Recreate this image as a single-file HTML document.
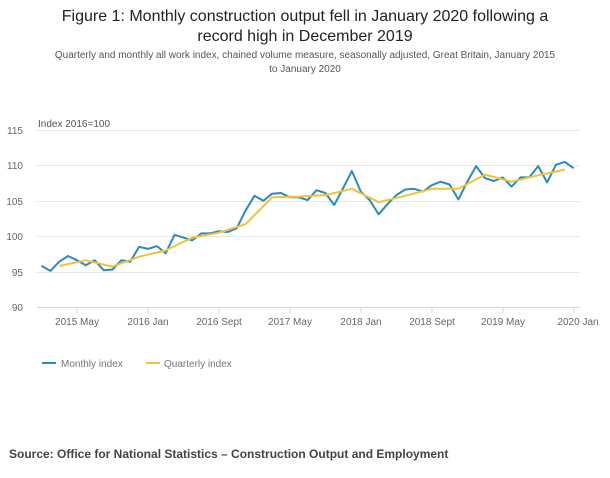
<!DOCTYPE html>
<html><head><meta charset="utf-8"><style>
body{margin:0;background:#fff;width:610px;height:478px;overflow:hidden;font-family:"Liberation Sans",sans-serif;}
.t{position:absolute;left:0;width:610px;text-align:center;font-size:16px;color:#222;line-height:20px;top:7px;}
.s{position:absolute;left:0;width:610px;text-align:center;font-size:10px;color:#555;line-height:14px;top:49px;}
.src{position:absolute;left:9px;top:447px;font-size:12px;font-weight:bold;color:#444;}
</style></head><body>
<div class="t">Figure 1: Monthly construction output fell in January 2020 following a<br>record high in December 2019</div>
<div class="s">Quarterly and monthly all work index, chained volume measure, seasonally adjusted, Great Britain, January 2015<br>to January 2020</div>
<svg width="610" height="478" style="position:absolute;left:0;top:0" font-family="Liberation Sans, sans-serif">
<g stroke="#e6e6e6" stroke-width="1">
<line x1="37" x2="580" y1="130.5" y2="130.5"/><line x1="37" x2="580" y1="165.5" y2="165.5"/><line x1="37" x2="580" y1="201.5" y2="201.5"/><line x1="37" x2="580" y1="236.5" y2="236.5"/><line x1="37" x2="580" y1="272.5" y2="272.5"/>
</g>
<line x1="37" x2="580" y1="307.5" y2="307.5" stroke="#ccd6eb"/>
<g stroke="#ccd6eb"><line x1="77" x2="77" y1="307" y2="313"/><line x1="148" x2="148" y1="307" y2="313"/><line x1="219" x2="219" y1="307" y2="313"/><line x1="290" x2="290" y1="307" y2="313"/><line x1="361" x2="361" y1="307" y2="313"/><line x1="432" x2="432" y1="307" y2="313"/><line x1="503" x2="503" y1="307" y2="313"/><line x1="574" x2="574" y1="307" y2="313"/></g>
<g font-size="10" fill="#666" text-anchor="end">
<text x="23" y="134">115</text><text x="23" y="169">110</text><text x="23" y="205">105</text><text x="23" y="240">100</text><text x="23" y="276">95</text><text x="23" y="311">90</text>
</g>
<text x="38" y="127" font-size="10" fill="#555">Index 2016=100</text>
<g font-size="10" fill="#666" text-anchor="middle">
<text x="77" y="325">2015 May</text><text x="148" y="325">2016 Jan</text><text x="219" y="325">2016 Sept</text><text x="290" y="325">2017 May</text><text x="361" y="325">2018 Jan</text><text x="432" y="325">2018 Sept</text><text x="503" y="325">2019 May</text><text x="578" y="325">2020 Jan</text>
</g>
<polyline id="m" fill="none" stroke="#2a8cbd" stroke-width="2" stroke-linejoin="round" points=""/>
<polyline id="q" fill="none" stroke="#f0c43a" stroke-width="2" stroke-linejoin="round" points=""/>
<line x1="42" x2="56" y1="363" y2="363" stroke="#2a8cbd" stroke-width="2"/>
<text x="61" y="367" font-size="10" fill="#777">Monthly index</text>
<line x1="146" x2="160" y1="363" y2="363" stroke="#f0c43a" stroke-width="2"/>
<text x="164" y="367" font-size="10" fill="#777">Quarterly index</text>
</svg>
<div class="src">Source: Office for National Statistics – Construction Output and Employment</div>
<script>
var M=[95.8,95.1,96.4,97.2,96.6,95.9,96.6,95.2,95.3,96.6,96.4,98.5,98.2,98.6,97.6,100.2,99.8,99.4,100.4,100.4,100.7,100.6,101.1,103.6,105.7,105.0,106.0,106.1,105.5,105.5,105.1,106.5,106.1,104.4,106.8,109.2,106.3,105.1,103.1,104.5,105.8,106.6,106.7,106.3,107.2,107.7,107.3,105.2,107.7,109.9,108.2,107.8,108.3,107.0,108.3,108.3,109.9,107.6,110.1,110.5,109.6];
var Q=[95.8,96.6,95.7,97.1,98.0,99.8,100.5,101.7,105.5,105.6,105.8,106.7,104.8,105.7,106.7,106.7,108.7,107.7,108.6,109.4];
function X(m){return 41.5+8.87*m}function Y(v){return 130+(115-v)*7.08}
document.getElementById('m').setAttribute('points',M.map(function(v,i){return X(i).toFixed(1)+','+Y(v).toFixed(1)}).join(' '));
document.getElementById('q').setAttribute('points',Q.map(function(v,i){return X(2+3*i).toFixed(1)+','+Y(v).toFixed(1)}).join(' '));
</script>
</body></html>
